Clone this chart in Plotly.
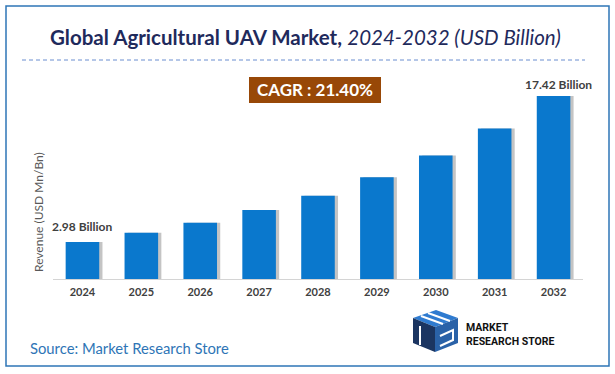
import plotly.graph_objects as go

W, H = 615, 374

years = ["2024", "2025", "2026", "2027", "2028", "2029", "2030", "2031", "2032"]
revenue = [2.98, 3.90, 4.89, 6.14, 7.56, 9.38, 11.55, 14.22, 17.42]
first_label = "2.98 Billion"
last_label = "17.42 Billion"
cagr_text = "CAGR : 21.40%"
title_bold = "Global Agricultural UAV Market,"
title_italic = "2024-2032 (USD Billion)"
y_title = "Revenue (USD Mn/Bn)"
source_text = "Source: Market Research Store"
logo_lines = ["MARKET", "RESEARCH STORE"]

FONT = "Lato"
BAR = "#0A78CD"
BASE = -0.71


def px(x):
    return x / W


def py(y):
    return 1 - y / H


fig = go.Figure()

# shadow
fig.add_trace(go.Bar(
    x=years, y=[v - BASE for v in revenue], base=BASE,
    marker=dict(color="rgba(60,60,60,0.30)", line=dict(width=0)),
    width=0.57, offset=-0.285 + 0.055, hoverinfo="skip", showlegend=False,
))
fig.add_trace(go.Bar(
    x=years, y=[v - BASE for v in revenue], base=BASE,
    marker=dict(color=BAR, line=dict(width=0)),
    width=0.57, offset=-0.285, showlegend=False,
))

fig.update_layout(
    width=W, height=H,
    margin=dict(l=0, r=0, t=0, b=0),
    paper_bgcolor="white", plot_bgcolor="white",
    barmode="overlay",
    font=dict(family=FONT),
    xaxis=dict(
        type="category",
        categoryorder="array", categoryarray=years,
        range=[-0.5, len(years) - 0.5],
        domain=[px(53), px(583)],
        showline=True, linecolor="#D4D4D4", linewidth=1,
        showgrid=False, ticks="", ticklabelstandoff=2,
        tickfont=dict(family=FONT, size=11, color="#404040", weight="bold"),
    ),
    yaxis=dict(
        domain=[py(279.3), py(70)],
        range=[BASE, 20.0],
        visible=False,
    ),
    showlegend=False,
)

shapes = []
shapes.append(dict(type="rect", xref="paper", yref="paper",
                   x0=px(6), x1=px(609), y0=py(366), y1=py(6),
                   line=dict(color="#2E75B6", width=1.5)))
shapes.append(dict(type="line", xref="paper", yref="paper",
                   x0=px(22), x1=px(585), y0=py(60), y1=py(60),
                   line=dict(color="#4472C4", width=0.8, dash="4px,3px")))
shapes.append(dict(type="rect", xref="paper", yref="paper",
                   x0=px(249), x1=px(381), y0=py(103), y1=py(77),
                   fillcolor="#984807", line=dict(width=0)))


def poly(pts, color):
    d = "M " + " L ".join(f"{px(a)},{py(b)}" for a, b in pts) + " Z"
    return dict(type="path", xref="paper", yref="paper", path=d,
                fillcolor=color, line=dict(width=0))


def wline(pts, w=2):
    d = "M " + " L ".join(f"{px(a)},{py(b)}" for a, b in pts)
    return dict(type="path", xref="paper", yref="paper", path=d,
                line=dict(color="white", width=w))


# logo cube
shapes.append(poly([(413, 318), (436, 310), (458, 318), (435, 327)], "#2F7BD0"))
shapes.append(poly([(413, 318), (435, 327), (435, 352), (413, 343)], "#1B3561"))
shapes.append(poly([(435, 327), (458, 318), (458, 343), (435, 352)], "#2A62A8"))
shapes.append(wline([(421, 316), (443, 324)]))
shapes.append(wline([(428, 313), (450, 321)]))
shapes.append(wline([(420, 326), (420, 345)]))
shapes.append(wline([(440, 336), (453, 330), (453, 340), (440, 346)]))
fig.update_layout(shapes=shapes)

ann = []
ann.append(dict(xref="paper", yref="paper", x=px(305), y=py(37),
                xanchor="center", yanchor="middle", showarrow=False,
                text=f"<b>{title_bold}</b> <i>{title_italic}</i>",
                font=dict(family=FONT, size=20.5, color="#1F2A5C")))
ann.append(dict(xref="paper", yref="paper", x=px(315), y=py(90),
                xanchor="center", yanchor="middle", showarrow=False,
                text=f"<b>{cagr_text}</b>",
                font=dict(family=FONT, size=17, color="white")))
ann.append(dict(x=0, y=revenue[0], xref="x", yref="y",
                xanchor="center", yanchor="bottom", yshift=6, showarrow=False,
                text=f"<b>{first_label}</b>",
                font=dict(family=FONT, size=12, color="#404040")))
ann.append(dict(x=len(years) - 1, y=revenue[-1], xref="x", yref="y",
                xanchor="center", yanchor="bottom", yshift=2, xshift=5, showarrow=False,
                text=f"<b>{last_label}</b>",
                font=dict(family=FONT, size=12, color="#404040")))
ann.append(dict(xref="paper", yref="paper", x=px(38), y=py(212),
                xanchor="center", yanchor="middle", showarrow=False, textangle=-90,
                text=y_title, font=dict(family=FONT, size=12, color="#595959")))
ann.append(dict(xref="paper", yref="paper", x=px(28), y=py(348),
                xanchor="left", yanchor="middle", showarrow=False,
                text=source_text, font=dict(family=FONT, size=14.8, color="#2E75B6")))
ann.append(dict(xref="paper", yref="paper", x=px(464), y=py(334),
                xanchor="left", yanchor="middle", showarrow=False, align="left",
                text="<br>".join(f"<b>{l}</b>" for l in logo_lines),
                font=dict(family="Roboto", size=10.5, color="#111111")))
fig.update_layout(annotations=ann)

fig.write_html("out.html", config={"displayModeBar": False},
               post_script="document.body.style.margin='0';")
